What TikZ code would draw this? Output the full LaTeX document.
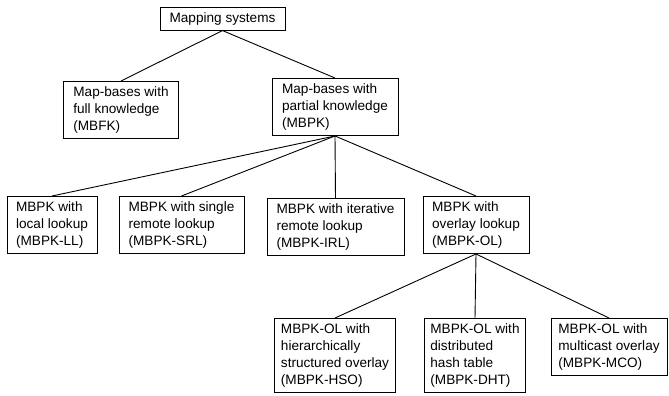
\documentclass[tikz,border=0pt]{standalone}
\usepackage{fontspec}
\setmainfont{Liberation Sans}
\usepackage{tikz}
\usetikzlibrary{positioning}

\begin{document}
\begin{tikzpicture}[
    x=1pt, y=-1pt,
    font=\fontsize{13.6}{17.2}\selectfont,
    box/.style={rectangle,draw=black,line width=0.9pt,fill=white,align=left,
                inner xsep=6pt,inner ysep=5pt,anchor=north},
    link/.style={draw=black,line width=0.9pt}]

  \useasboundingbox (0,0) rectangle (669,396);

  \node[box,minimum width=125pt] (root) at (222.5,  7) {Mapping systems};
  \node[box,minimum width=115pt] (mbfk) at (121, 81) {Map-bases with\\full knowledge\\(MBFK)};
  \node[box,minimum width=126pt] (mbpk) at (335, 78) {Map-bases with\\partial knowledge\\(MBPK)};

  \node[box,minimum width=90pt]  (ll)  at ( 52,196) {MBPK with\\local lookup\\(MBPK-LL)};
  \node[box,minimum width=125pt] (srl) at (181.5,196) {MBPK with single\\remote lookup\\(MBPK-SRL)};
  \node[box,minimum width=137pt] (irl) at (335.5,198) {MBPK with iterative\\remote lookup\\(MBPK-IRL)};
  \node[box,minimum width=106pt] (ol)  at (476,196) {MBPK with\\overlay lookup\\(MBPK-OL)};

  \node[box,minimum width=121pt] (hso) at (335,318) {MBPK-OL with\\hierarchically\\structured overlay\\(MBPK-HSO)};
  \node[box,minimum width=100pt] (dht) at (475,318) {MBPK-OL with\\distributed\\hash table\\(MBPK-DHT)};
  \node[box,minimum width=116pt] (mco) at (609,318) {MBPK-OL with\\multicast overlay\\(MBPK-MCO)};

  % tree edges
  \foreach \a/\b in {root/mbfk, root/mbpk, mbpk/ll, mbpk/srl, mbpk/irl, mbpk/ol,
                     ol/hso, ol/dht, ol/mco}
    \draw[link] (\a.south) -- (\b.north);
\end{tikzpicture}
\end{document}
